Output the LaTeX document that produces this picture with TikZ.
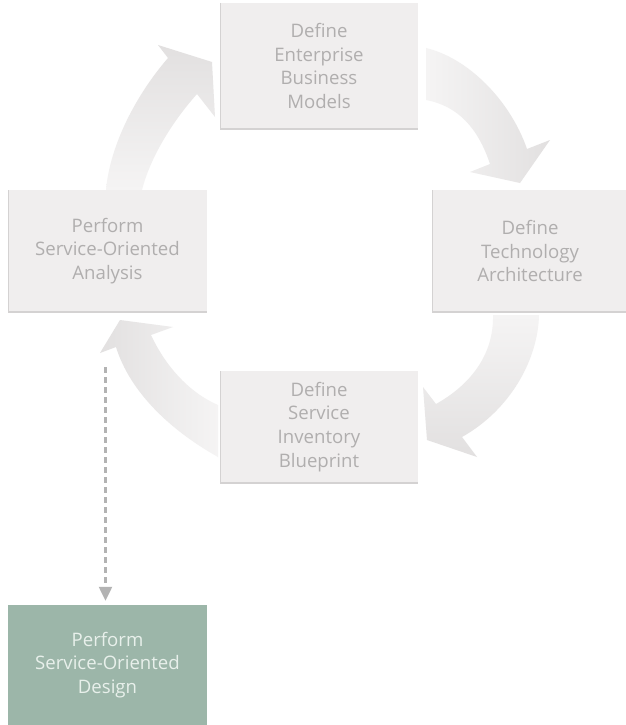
\documentclass[tikz,border=0pt]{standalone}
\usepackage{fontspec}
\setmainfont{Open Sans}
\usetikzlibrary{arrows.meta}

\definecolor{boxfill}{HTML}{F0EEEE}
\definecolor{boxedge}{HTML}{D4D2D2}
\definecolor{boxtext}{HTML}{B0AEAE}
\definecolor{arrowhead}{HTML}{E2E0E0}
\definecolor{arrowtail}{HTML}{F5F4F4}
\definecolor{designfill}{HTML}{9CB6A9}
\definecolor{designtext}{HTML}{E8F0EB}
\definecolor{dashgray}{HTML}{B3B3B3}

\tikzset{
  boxlabel/.style={align=center, inner sep=0pt,
    font=\fontsize{18.6}{23.8}\selectfont},
  stepbox/.style={boxlabel, fill=boxfill, text=boxtext,
    path picture={\draw[boxedge, line width=2.5pt]
      (path picture bounding box.north west) --
      (path picture bounding box.south west) --
      (path picture bounding box.south east);}},
  designbox/.style={boxlabel, fill=designfill, text=designtext},
  cyclearrow/.style={draw=none},
  flowlink/.style={dashgray, line width=2.3pt, dash pattern=on 6pt off 4pt,
    -{Triangle[width=13pt,length=14pt]}},
}

\begin{document}
\begin{tikzpicture}[x=1pt,y=-1pt]
\useasboundingbox[fill=white] (0,0) rectangle (626,725);

% broad curved arrows of the cycle
\shade[cyclearrow, top color=arrowhead, bottom color=arrowtail]
  (106,190) .. controls (110,145) and (136,95) .. (168,58)
  -- (158,45) -- (212,62) -- (215,117) -- (197,94)
  .. controls (172,122) and (150,158) .. (142,190) -- cycle;
\shade[cyclearrow, left color=arrowtail, right color=arrowhead]
  (426,48) .. controls (468,58) and (510,100) .. (527,149)
  -- (550,140) -- (520,183) -- (470,172) -- (490,164)
  .. controls (478,128) and (458,106) .. (426,100) -- cycle;
\shade[cyclearrow, top color=arrowtail, bottom color=arrowhead]
  (539,315) .. controls (538,360) and (510,410) .. (462,437)
  -- (477,457) -- (427,440) -- (423,387) -- (436,404)
  .. controls (470,385) and (494,355) .. (493,315) -- cycle;
\shade[cyclearrow, left color=arrowhead, right color=arrowtail]
  (218,457) .. controls (170,430) and (130,392) .. (116,347)
  -- (100,353) -- (120,320) -- (173,327) -- (151,335)
  .. controls (165,365) and (188,392) .. (218,405) -- cycle;

% process steps
\node[stepbox, minimum width=198pt, minimum height=126pt]
  (models) at (319,66) {Define\\Enterprise\\Business\\Models};
\node[stepbox, minimum width=199pt, minimum height=122pt]
  (analysis) at (107.5,251) {Perform\\Service-Oriented\\Analysis};
\node[stepbox, minimum width=196pt, minimum height=122pt]
  (architecture) at (530,251) {Define\\Technology\\Architecture};
\node[stepbox, minimum width=198pt, minimum height=112pt]
  (inventory) at (319,427) {Define\\Service\\Inventory\\Blueprint};
\node[designbox, minimum width=199pt, minimum height=120pt]
  (design) at (107.5,665) {Perform\\Service-Oriented\\Design};

% link into design
\draw[flowlink, shorten <=55pt, shorten >=4pt]
  ([xshift=-2pt]analysis.south) -- ([xshift=-2pt]design.north);
\end{tikzpicture}
\end{document}
